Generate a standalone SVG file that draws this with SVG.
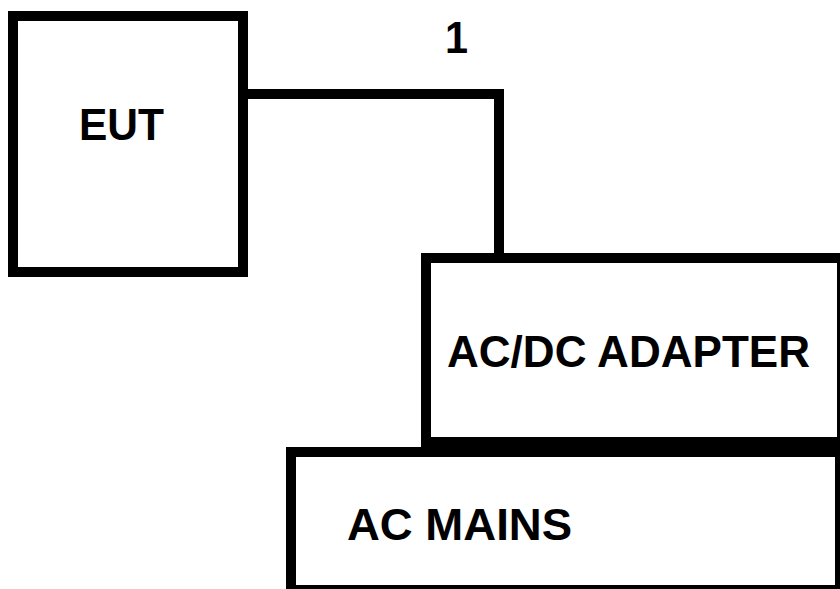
<svg xmlns="http://www.w3.org/2000/svg" width="840" height="589" viewBox="0 0 840 589">
<style>
.box{fill:#fff;stroke:#000;stroke-width:10}
.wire{fill:none;stroke:#000;stroke-width:10}
.lbl{font-family:"Liberation Sans",Arial,sans-serif;font-weight:bold;font-size:45px;fill:#000}
</style>
<rect width="840" height="589" fill="#fff"/>
<g id="connectors">
<polyline class="wire" points="243,94 499,94 499,258"/>
</g>
<text class="lbl" x="445" y="53" textLength="23" lengthAdjust="spacingAndGlyphs">1</text>
<g id="eut">
<rect class="box" x="13" y="16" width="230" height="256"/>
<text class="lbl" x="79" y="140" textLength="85" lengthAdjust="spacingAndGlyphs">EUT</text>
</g>
<g id="adapter">
<rect class="box" x="426" y="258" width="416" height="184"/>
<text class="lbl" x="447" y="367" textLength="363" lengthAdjust="spacingAndGlyphs">AC/DC ADAPTER</text>
</g>
<g id="mains">
<rect class="box" x="291" y="452" width="549" height="138"/>
<text class="lbl" x="347" y="540" textLength="225" lengthAdjust="spacingAndGlyphs">AC MAINS</text>
</g>
</svg>
